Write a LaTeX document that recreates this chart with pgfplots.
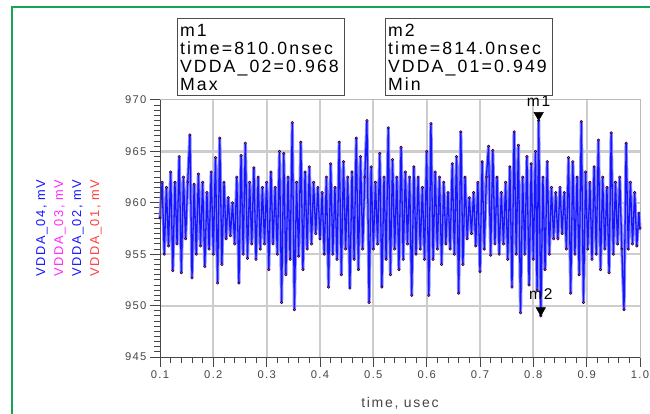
\documentclass[border=0pt]{standalone}
\usepackage{fontspec}
\setmainfont[LetterSpace=12]{Liberation Sans}
\usepackage{pgfplots}
\usepackage{pgfplotstable}
\pgfplotsset{compat=1.18}
\definecolor{frameg}{RGB}{20,165,85}
\definecolor{ticklab}{RGB}{70,70,70}
\definecolor{lblred}{RGB}{255,60,60}
\definecolor{lblmag}{RGB}{255,40,255}
\definecolor{sigblue}{RGB}{20,20,255}
\definecolor{siglight}{RGB}{140,140,255}
\definecolor{gridc}{RGB}{205,205,205}

\pgfplotstableread{
x y
0.100 958.5
0.104 962.0
0.108 955.0
0.112 961.5
0.116 955.8
0.120 963.0
0.124 953.4
0.128 962.0
0.132 956.0
0.136 964.5
0.140 953.2
0.144 962.5
0.148 956.5
0.152 962.0
0.156 966.6
0.160 952.7
0.164 961.8
0.168 955.0
0.172 962.8
0.176 955.8
0.180 962.0
0.184 953.8
0.188 961.0
0.192 955.5
0.196 963.0
0.200 955.0
0.204 964.4
0.208 952.2
0.212 966.3
0.216 954.0
0.220 962.0
0.224 956.5
0.228 960.5
0.232 956.8
0.236 960.0
0.240 956.0
0.244 962.5
0.248 952.2
0.252 964.6
0.256 955.0
0.260 965.8
0.264 954.6
0.268 962.0
0.272 956.0
0.276 963.4
0.280 954.5
0.284 962.5
0.288 955.5
0.292 961.5
0.296 956.0
0.300 962.0
0.304 953.5
0.308 963.0
0.312 956.0
0.316 961.5
0.320 955.0
0.324 965.0
0.328 950.3
0.332 964.8
0.336 953.0
0.340 962.5
0.344 954.5
0.348 967.8
0.352 949.6
0.356 962.0
0.360 954.8
0.364 965.9
0.368 953.5
0.372 963.0
0.376 955.5
0.380 963.5
0.384 956.0
0.388 962.0
0.392 957.0
0.396 961.5
0.400 956.5
0.404 961.0
0.408 955.0
0.412 962.5
0.416 951.8
0.420 963.8
0.424 955.0
0.428 961.5
0.432 954.5
0.436 965.9
0.440 953.0
0.444 964.0
0.448 955.5
0.452 962.5
0.456 951.7
0.460 963.0
0.464 954.5
0.468 966.3
0.472 953.5
0.476 964.5
0.480 955.5
0.484 962.5
0.488 968.0
0.492 950.3
0.496 963.5
0.500 955.5
0.504 962.0
0.508 956.0
0.512 964.8
0.516 951.8
0.520 962.5
0.524 954.5
0.528 967.3
0.532 953.0
0.536 964.2
0.540 955.5
0.544 962.5
0.548 953.5
0.552 965.4
0.556 954.5
0.560 963.0
0.564 956.0
0.568 962.5
0.572 951.0
0.576 963.5
0.580 955.0
0.584 962.5
0.588 955.5
0.592 961.5
0.596 954.5
0.600 965.0
0.604 951.0
0.608 967.7
0.612 954.5
0.616 963.0
0.620 955.5
0.624 962.5
0.628 954.0
0.632 962.0
0.636 956.0
0.640 961.0
0.644 955.5
0.648 963.8
0.652 955.0
0.656 964.5
0.660 951.2
0.664 966.9
0.668 954.0
0.672 962.5
0.676 956.5
0.680 960.5
0.684 957.0
0.688 961.0
0.692 955.8
0.696 962.0
0.700 953.3
0.704 964.0
0.708 955.5
0.712 962.5
0.716 965.5
0.720 954.9
0.724 965.1
0.728 956.0
0.732 962.5
0.736 955.0
0.740 961.0
0.744 956.0
0.748 962.0
0.752 954.5
0.756 963.5
0.760 951.8
0.764 966.9
0.768 955.0
0.772 965.6
0.776 949.3
0.780 962.5
0.784 955.0
0.788 964.5
0.792 952.0
0.796 963.8
0.800 954.5
0.804 965.0
0.807 951.5
0.810 968.0
0.814 949.0
0.818 962.5
0.822 953.5
0.826 964.0
0.830 955.0
0.834 961.5
0.838 956.5
0.842 961.0
0.846 956.5
0.850 961.5
0.854 957.0
0.858 961.0
0.862 955.5
0.866 964.4
0.870 951.2
0.874 964.0
0.878 955.0
0.882 962.5
0.886 953.0
0.890 967.9
0.894 950.3
0.898 963.0
0.902 955.5
0.906 962.0
0.910 954.5
0.914 963.5
0.918 955.0
0.922 966.1
0.926 953.5
0.930 962.5
0.934 955.5
0.938 961.5
0.942 953.2
0.946 966.8
0.950 955.0
0.954 962.0
0.958 956.0
0.962 962.5
0.966 955.5
0.970 949.6
0.974 965.8
0.978 955.5
0.982 962.0
0.986 956.0
0.990 961.0
0.994 955.8
0.998 959.0
1.000 957.5
}\vdda

\begin{document}
\begin{tikzpicture}[x=1pt,y=1pt]
\useasboundingbox (0,0) rectangle (650,413);
% green frame
\draw[frameg, line width=2pt] (12,-5) -- (12,406) -- (660,406);

\begin{axis}[
  at={(160pt,56pt)}, anchor=south west,
  scale only axis, width=480pt, height=257pt,
  xmin=0.1, xmax=1.0, ymin=945, ymax=970,
  xtick={0.1,0.2,0.3,0.4,0.5,0.6,0.7,0.8,0.9,1.0},
  ytick={945,950,955,960,965,970},
  minor x tick num=4, minor y tick num=9,
  xtick pos=bottom, ytick pos=left,
  tick align=outside,
  major tick length=10pt, minor tick length=6pt,
  tick style={ticklab, line width=1pt},
  axis line style={gray!55, line width=1pt},
  /pgf/number format/assume math mode=true,
  xticklabel style={/pgf/number format/.cd, fixed, fixed zerofill, precision=1},
  yticklabel style={/pgf/number format/.cd, fixed, precision=0},
  ticklabel style={font=\fontsize{11.2}{13}\selectfont, text=ticklab},
  xlabel={time, usec},
  xlabel style={font=\fontsize{14}{16}\selectfont, text=ticklab, at={(axis description cs:0.5,0)}, anchor=center, yshift=-46pt},
  clip=false,
]
% grid
\pgfplotsinvokeforeach{0.2,0.3,0.4,0.5,0.6,0.7,0.8,0.9}{
  \draw[gridc, line width=2.2pt] (axis cs:#1,945) -- (axis cs:#1,970);
}
\pgfplotsinvokeforeach{950,955,960,965}{
  \draw[gridc, line width=2.2pt] (axis cs:0.1,#1) -- (axis cs:1.0,#1);
}
\addplot[siglight, line width=3.2pt, line join=round, mark=none] table[x=x,y=y] {\vdda};
\addplot[draw=none, only marks, mark=*, mark size=1.2pt, mark options={draw=none, fill=lblmag}] table[x=x,y=y] {\vdda};
\addplot[sigblue, line width=1.3pt, mark=none] table[x=x,y=y] {\vdda};
% left & bottom axis lines darker
\draw[ticklab, line width=1pt] (rel axis cs:0,1) -- (rel axis cs:0,0) -- (rel axis cs:1,0);
% markers
\addplot[only marks, mark=triangle*, mark size=5.5pt, mark options={fill=black, draw=black, rotate=180, yshift=-5.5pt}] coordinates {(0.810,968.0) (0.814,949.0)};
\node[font=\fontsize{15.5}{16}\selectfont, anchor=base] at (axis cs:0.81,970) [yshift=-6pt] {m1};
\node[font=\fontsize{15.5}{16}\selectfont, anchor=base] at (axis cs:0.814,949) [yshift=16pt] {m2};
\end{axis}

% y label lines
\node[rotate=90, text=sigblue, font=\fontsize{12.8}{14}\selectfont] at (42,185) {VDDA\_04, mV};
\node[rotate=90, text=lblmag, font=\fontsize{12.8}{14}\selectfont] at (60,185) {VDDA\_03, mV};
\node[rotate=90, text=sigblue, font=\fontsize{12.8}{14}\selectfont] at (78,185) {VDDA\_02, mV};
\node[rotate=90, text=lblred, font=\fontsize{12.8}{14}\selectfont] at (96,185) {VDDA\_01, mV};

% marker readout boxes
\node[draw=black!70, line width=1pt, anchor=north west, minimum width=167pt, minimum height=77pt,
      inner sep=2pt, align=left, text width=162pt, font=\fontsize{17.7}{18}\selectfont]
  at (177,395) {m1\\time=810.0nsec\\VDDA\_02=0.968\\Max};
\node[draw=black!70, line width=1pt, anchor=north west, minimum width=167pt, minimum height=77pt,
      inner sep=2pt, align=left, text width=162pt, font=\fontsize{17.7}{18}\selectfont]
  at (385,395) {m2\\time=814.0nsec\\VDDA\_01=0.949\\Min};
\end{tikzpicture}
\end{document}
